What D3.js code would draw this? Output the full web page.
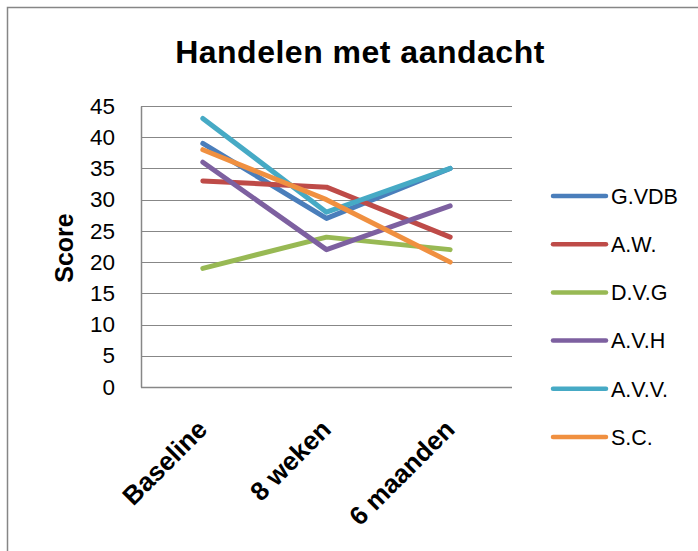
<!DOCTYPE html>
<html>
<head>
<meta charset="utf-8">
<script src="https://cdn.jsdelivr.net/npm/d3@7"></script>
<style>
  html, body { margin: 0; padding: 0; background: #fff; }
  svg { display: block; }
</style>
</head>
<body>
<svg id="chart" width="698" height="551"></svg>
<script>
const title = "Handelen met aandacht";
const yTitle = "Score";
const categories = ["Baseline", "8 weken", "6 maanden"];
const seriesNames = ["G.VDB", "A.W.", "D.V.G", "A.V.H", "A.V.V.", "S.C."];
const seriesColors = ["#4A7EBB", "#BE4B48", "#98B954", "#7D60A0", "#46AAC5", "#F09040"];
const valuesGVDB = [39, 27, 35];
const valuesAW = [33, 32, 24];
const valuesDVG = [19, 24, 22];
const valuesAVH = [36, 22, 29];
const valuesAVV = [43, 28, 35];
const valuesSC = [38, 30, 20];
const yTicks = [0, 5, 10, 15, 20, 25, 30, 35, 40, 45];

const seriesValues = [valuesGVDB, valuesAW, valuesDVG, valuesAVH, valuesAVV, valuesSC];
const series = seriesNames.map((n, i) => ({ name: n, color: seriesColors[i], values: seriesValues[i] }));

const svg = d3.select("#chart");
const font = "'Liberation Sans', Arial, sans-serif";

// outer border
svg.append("rect").attr("x", 7.5).attr("y", 7.5).attr("width", 700).attr("height", 560)
  .attr("fill", "#fff").attr("stroke", "#868686").attr("stroke-width", 1.5);

const plot = { left: 141, right: 512, top: 106, bottom: 387 };

const x = d3.scalePoint().domain(categories).range([plot.left, plot.right]).padding(0.5);
const y = d3.scaleLinear().domain([0, 45]).range([plot.bottom, plot.top]);

// gridlines
const grid = svg.append("g");
grid.selectAll("line").data(yTicks.filter(t => t > 0)).join("line")
  .attr("x1", plot.left).attr("x2", plot.right)
  .attr("y1", d => Math.round(y(d)) + 0.5).attr("y2", d => Math.round(y(d)) + 0.5)
  .attr("stroke", "#878787").attr("stroke-width", 1.2);

// y axis
const yAxis = svg.append("g").attr("transform", `translate(${plot.left},0)`)
  .call(d3.axisLeft(y).tickValues(yTicks).tickSize(0).tickPadding(26));
yAxis.select(".domain").attr("stroke", "#878787").attr("stroke-width", 1.5);
yAxis.selectAll("text").attr("font-family", font).attr("font-size", 22.5).attr("fill", "#000");

// x axis
const xAxis = svg.append("g").attr("transform", `translate(0,${plot.bottom})`)
  .call(d3.axisBottom(x).tickSize(0).tickFormat(""));
xAxis.select(".domain").attr("d", `M${plot.left},0.5H${plot.right}`).attr("stroke", "#878787").attr("stroke-width", 1.5);

svg.append("g").selectAll("text").data(categories).join("text")
  .attr("transform", d => `translate(${x(d) + 6},431) rotate(-45)`)
  .attr("text-anchor", "end")
  .attr("font-family", font).attr("font-weight", "bold").attr("font-size", 26)
  .attr("fill", "#000")
  .text(d => d);

// lines
const line = d3.line().x((d, i) => x(categories[i])).y(d => y(d));
svg.append("g").selectAll("path").data(series).join("path")
  .attr("d", d => line(d.values))
  .attr("fill", "none").attr("stroke", d => d.color)
  .attr("stroke-width", 5).attr("stroke-linejoin", "round").attr("stroke-linecap", "round");

// title
svg.append("text").attr("x", 360).attr("y", 63).attr("text-anchor", "middle")
  .attr("font-family", font).attr("font-weight", "bold").attr("font-size", 32)
  .attr("letter-spacing", 0.5)
  .attr("fill", "#000").text(title);

// y title
svg.append("text").attr("transform", "translate(73,248) rotate(-90)").attr("text-anchor", "middle")
  .attr("font-family", font).attr("font-weight", "bold").attr("font-size", 25)
  .attr("fill", "#000").text(yTitle);

// legend
const legY = d3.scalePoint().domain(seriesNames).range([196, 437]);
const leg = svg.append("g").selectAll("g").data(series).join("g")
  .attr("transform", d => `translate(0,${legY(d.name)})`);
leg.append("line").attr("x1", 553).attr("x2", 606).attr("y1", 0).attr("y2", 0)
  .attr("stroke", d => d.color).attr("stroke-width", 4.5).attr("stroke-linecap", "round");
leg.append("text").attr("x", 611).attr("y", 0).attr("dy", "0.36em")
  .attr("font-family", font).attr("font-size", 21.5).attr("fill", "#000")
  .text(d => d.name);
</script>
</body>
</html>
